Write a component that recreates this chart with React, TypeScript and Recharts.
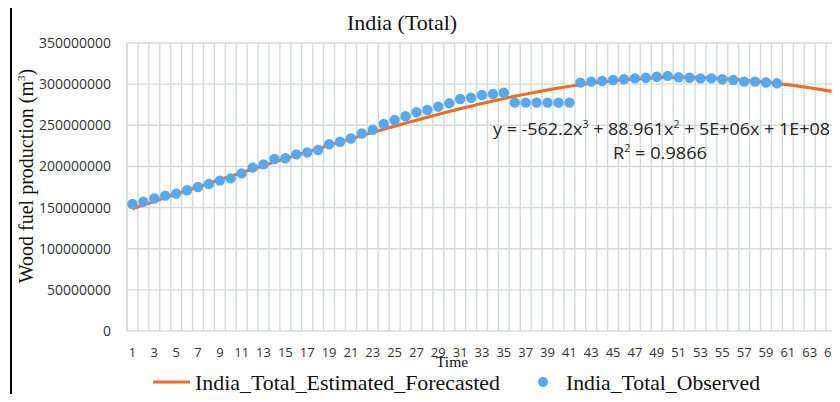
import { CartesianGrid, ComposedChart, Line, XAxis, YAxis } from 'recharts';

// time periods 1..65
const periods = [
  1, 2, 3, 4, 5, 6, 7, 8, 9, 10, 11, 12, 13, 14, 15, 16, 17, 18, 19, 20, 21, 22,
  23, 24, 25, 26, 27, 28, 29, 30, 31, 32, 33, 34, 35, 36, 37, 38, 39, 40, 41, 42,
  43, 44, 45, 46, 47, 48, 49, 50, 51, 52, 53, 54, 55, 56, 57, 58, 59, 60, 61, 62,
  63, 64, 65,
];

// observed wood fuel production, millions of m3 (periods 1..60)
const observed = [
  154.3, 157.0, 161.0, 164.5, 167.0, 171.0, 175.0, 178.6, 182.7, 185.5,
  191.6, 198.5, 202.5, 209.0, 210.0, 214.7, 217.0, 220.0, 227.0, 230.0,
  234.0, 240.0, 244.5, 251.6, 256.4, 261.0, 265.8, 268.6, 272.6, 276.7,
  282.0, 283.5, 286.8, 288.0, 289.6, 277.5, 277.5, 277.5, 277.5, 277.5,
  277.5, 301.8, 303.0, 303.8, 305.0, 305.9, 307.0, 307.8, 309.0, 310.0,
  308.3, 307.8, 307.0, 307.0, 306.0, 305.0, 303.0, 303.0, 302.0, 301.0,
];

// estimated / forecasted trend, millions of m3 (periods 1..65)
const estimated = [
  148.5, 153.0, 157.5, 162.0, 166.4, 170.8, 175.2, 179.6, 183.9, 188.2,
  192.5, 196.8, 201.0, 205.2, 209.4, 213.5, 217.6, 221.7, 225.7, 229.7,
  233.6, 237.5, 241.4, 245.2, 248.9, 252.6, 256.2, 259.8, 263.3, 266.7,
  270.0, 273.3, 276.4, 279.5, 282.4, 285.2, 287.9, 290.5, 292.9, 295.2,
  297.3, 299.3, 301.1, 302.7, 304.1, 305.3, 306.3, 307.1, 307.7, 308.2,
  308.3, 308.2, 307.9, 307.4, 306.7, 305.8, 304.8, 303.6, 302.3, 300.9,
  299.3, 297.5, 295.6, 293.5, 291.3,
];

const yTicks = [0, 50, 100, 150, 200, 250, 300, 350];

const ORANGE = '#ef6b28';
const BLUE = '#58a8f0';
const GRID = '#d5dad8';

const rows = periods.map((t, i) => ({ t, est: estimated[i], obs: observed[i] ?? null }));

const serif = '"Liberation Serif", "DejaVu Serif", serif';
const sans = '"Open Sans", "Noto Sans", sans-serif';

function ObsDot(p: any) {
  if (p.payload?.obs == null || !Number.isFinite(p.cy)) return <g key={p.key} />;
  return <circle key={p.key} cx={p.cx} cy={p.cy} r={5.2} fill={BLUE} />;
}

export default function App() {
  return (
    <div style={{ position: 'relative', width: 840, height: 402, margin: -8, overflow: 'hidden', background: '#fff' }}>
      <div
        style={{
          position: 'absolute',
          left: 10,
          top: 4,
          width: 900,
          height: 500,
          borderLeft: '2.5px solid #000',
          borderTop: '2.5px solid #000',
        }}
      />
      <div style={{ position: 'absolute', left: 0, top: 0 }}>
        <ComposedChart width={840} height={402} data={rows} margin={{ top: 43, right: 3, bottom: 41, left: 0 }}>
          <CartesianGrid
            stroke={GRID}
            strokeWidth={1.4}
            verticalCoordinatesGenerator={({ offset }: any) =>
              periods.concat([0]).map((_, k) => offset.left + (k * offset.width) / periods.length)
            }
          />
          <XAxis
            dataKey="t"
            type="category"
            scale="band"
            interval={1}
            height={30}
            tickLine={false}
            axisLine={false}
            tickSize={6}
            tickMargin={11}
            tick={{ fill: '#333', fontSize: 13, fontFamily: sans }}
          />
          <YAxis
            type="number"
            domain={[0, 350]}
            ticks={yTicks}
            width={127}
            tickLine={false}
            axisLine={{ stroke: GRID, strokeWidth: 1.4 }}
            tickSize={6}
            tickMargin={10}
            tick={{ fill: '#333', fontSize: 14, fontFamily: sans }}
            tickFormatter={(v) => (v === 0 ? '0' : `${v}000000`)}
          />
          <Line dataKey="est" stroke={ORANGE} strokeWidth={3} dot={false} isAnimationActive={false} />
          <Line dataKey="obs" stroke="none" dot={ObsDot} activeDot={false} isAnimationActive={false} />
          <Line
            dataKey="est"
            stroke={ORANGE}
            strokeWidth={2.6}
            strokeDasharray="2.2 3.3"
            dot={false}
            activeDot={false}
            isAnimationActive={false}
          />
        </ComposedChart>
      </div>
      <svg width={840} height={402} style={{ position: 'absolute', left: 0, top: 0, pointerEvents: 'none' }}>
        <text x={402} y={30} textAnchor="middle" fontFamily={serif} fontSize={22} fill="#111">
          India (Total)
        </text>
        <text transform="translate(33,176) rotate(-90)" textAnchor="middle" fontFamily={serif} fontSize={20} fill="#111">
          Wood fuel production (m<tspan dy={-8} fontSize={11}>3</tspan><tspan dy={8}>)</tspan>
        </text>
        <text x={452} y={367} textAnchor="middle" fontFamily={serif} fontSize={15.5} fill="#111">
          Time
        </text>
        <text x={493} y={135} fontFamily={sans} fontSize={17} fill="#222" textLength={337} lengthAdjust="spacingAndGlyphs">
          y = -562.2x<tspan dy={-7} fontSize={10}>3</tspan><tspan dy={7}> + 88.961x</tspan>
          <tspan dy={-7} fontSize={10}>2</tspan><tspan dy={7}> + 5E+06x + 1E+08</tspan>
        </text>
        <text x={613} y={159} fontFamily={sans} fontSize={17} fill="#222" textLength={94} lengthAdjust="spacingAndGlyphs">
          R<tspan dy={-7} fontSize={10}>2</tspan><tspan dy={7}> = 0.9866</tspan>
        </text>
        <line x1={153} y1={382} x2={190} y2={382} stroke={ORANGE} strokeWidth={3} />
        <text x={195} y={390} fontFamily={serif} fontSize={22} fill="#111" textLength={305} lengthAdjust="spacingAndGlyphs">
          India_Total_Estimated_Forecasted
        </text>
        <circle cx={543} cy={382} r={5} fill={BLUE} />
        <text x={566} y={390} fontFamily={serif} fontSize={22} fill="#111" textLength={194} lengthAdjust="spacingAndGlyphs">
          India_Total_Observed
        </text>
      </svg>
    </div>
  );
}
